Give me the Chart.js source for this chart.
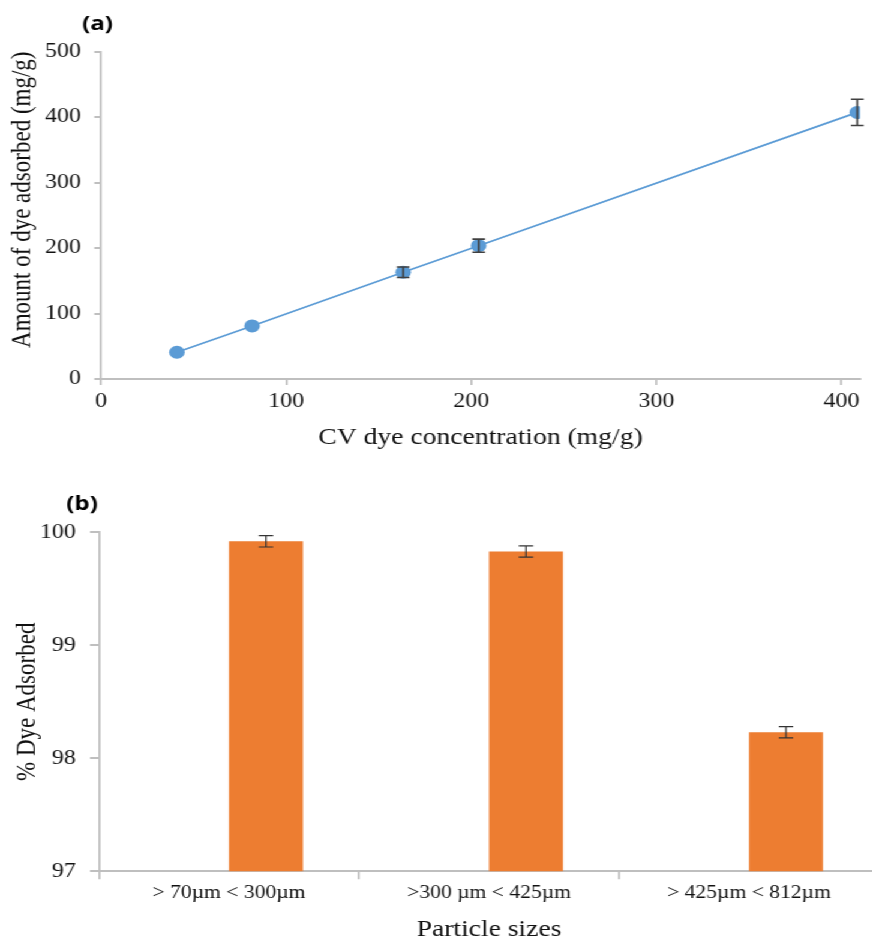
<!DOCTYPE html>
<html>
<head>
<meta charset="utf-8">
<script src="https://cdn.jsdelivr.net/npm/chart.js@4.4.1/dist/chart.umd.min.js"></script>
<style>
  html, body { margin: 0; padding: 0; background: #fff; width: 872px; height: 945px; overflow: hidden; }
  /* the figure is a little wider than tall, like the original scan */
  #stage { width: 735px; transform: scaleX(1.2); transform-origin: 0 0; }
  canvas { display: block; }
</style>
</head>
<body>
<div id="stage">
  <canvas id="chartA" width="735" height="470"></canvas>
  <canvas id="chartB" width="735" height="475"></canvas>
</div>
<script>
// (a) adsorption vs concentration
const concentration = [41, 81.6, 163.2, 204, 408.5];
const adsorbed      = [40.8, 81, 163, 203.5, 407];
const adsorbedErr   = [0, 0, 8, 10, 20];
const xTicksA = [0, 100, 200, 300, 400];
const yTicksA = [0, 100, 200, 300, 400, 500];

// (b) particle size
const particleSizes  = ['> 70\u00b5m < 300\u00b5m', '>300 \u00b5m < 425\u00b5m', '> 425\u00b5m < 812\u00b5m'];
const dyeAdsorbed    = [99.92, 99.83, 98.23];
const dyeAdsorbedErr = [0.05, 0.05, 0.05];
const yTicksB = [97, 98, 99, 100];

const serif = '"Liberation Serif", "Times New Roman", serif';
const textColor = '#111111';
const axisColor = '#bfbfbf';

// error bars drawn on top of points / bars
const errorBars = {
    id: 'errorBars',
    afterDatasetsDraw(chart, args, opts) {
        const ctx = chart.ctx;
        const yScale = chart.scales.y;
        chart.data.datasets.forEach((ds, i) => {
            if (!ds.errors) return;
            const meta = chart.getDatasetMeta(i);
            ctx.save();
            ctx.strokeStyle = opts.color;
            ctx.lineWidth = opts.width;
            meta.data.forEach((el, j) => {
                const raw = ds.data[j];
                const v = (raw !== null && typeof raw === 'object') ? raw.y : raw;
                const e = ds.errors[j];
                if (v == null || !e) return;
                const x = el.x;
                const top = yScale.getPixelForValue(v + e);
                const bot = yScale.getPixelForValue(v - e);
                ctx.beginPath();
                ctx.moveTo(x, top); ctx.lineTo(x, bot);
                ctx.moveTo(x - opts.cap, top); ctx.lineTo(x + opts.cap, top);
                ctx.moveTo(x - opts.cap, bot); ctx.lineTo(x + opts.cap, bot);
                ctx.stroke();
            });
            ctx.restore();
        });
    }
};

// "(a)" / "(b)" panel letters
const panelLabel = {
    id: 'panelLabel',
    afterDraw(chart, args, opts) {
        const ctx = chart.ctx;
        ctx.save();
        ctx.font = 'bold 20px "Open Sans", sans-serif';
        ctx.fillStyle = '#000';
        ctx.textAlign = 'center';
        ctx.textBaseline = 'middle';
        ctx.fillText(opts.text, opts.x, opts.y);
        ctx.restore();
    }
};

function setTicks(list) {
    return function(scale) {
        scale.ticks = list.map(v => ({ value: v }));
    };
}

new Chart(document.getElementById('chartA'), {
    type: 'scatter',
    data: {
        datasets: [{
            data: concentration.map((x, i) => ({ x: x, y: adsorbed[i] })),
            errors: adsorbedErr,
            showLine: true,
            borderColor: '#5b9bd5',
            backgroundColor: '#5b9bd5',
            borderWidth: 1.75,
            pointRadius: 6.5,
            pointHoverRadius: 6.5,
            pointBorderWidth: 0
        }]
    },
    plugins: [errorBars, panelLabel],
    options: {
        responsive: false,
        animation: false,
        events: [],
        layout: { padding: { top: 51.5, right: 18.3, bottom: 18.2, left: 0 } },
        plugins: {
            legend: { display: false },
            tooltip: { enabled: false },
            errorBars: { color: '#404040', width: 1.6, cap: 5.3 },
            panelLabel: { text: '(a)', x: 81.3, y: 24 }
        },
        scales: {
            x: {
                type: 'linear',
                min: 0,
                max: 410,
                afterBuildTicks: setTicks(xTicksA),
                afterFit: s => { s.height = 72.8; },
                grid: { drawOnChartArea: false, tickLength: 6, color: axisColor, lineWidth: 1.7 },
                border: { color: axisColor, width: 2 },
                ticks: { padding: 5, color: textColor, font: { family: serif, size: 20 } },
                title: {
                    display: true,
                    text: 'CV dye concentration (mg/g)',
                    color: textColor,
                    font: { family: serif, size: 23 },
                    padding: 0
                }
            },
            y: {
                min: 0,
                max: 500,
                afterBuildTicks: setTicks(yTicksA),
                afterFit: s => { s.width = 84.2; },
                grid: { drawOnChartArea: false, tickLength: 5.6, color: axisColor, lineWidth: 2 },
                border: { color: axisColor, width: 1.7 },
                ticks: { padding: 11, color: textColor, font: { family: serif, size: 20 } },
                title: {
                    display: true,
                    text: 'Amount of dye adsorbed (mg/g)',
                    align: 'end',
                    color: textColor,
                    font: { family: serif, size: 23 },
                    padding: { top: 5, bottom: 0 }
                }
            }
        }
    }
});

new Chart(document.getElementById('chartB'), {
    type: 'bar',
    data: {
        labels: particleSizes,
        datasets: [
            // empty first series keeps the bars right of each category centre
            { data: particleSizes.map(() => null), backgroundColor: 'rgba(0,0,0,0)' },
            { data: dyeAdsorbed, errors: dyeAdsorbedErr, backgroundColor: '#ed7d31' }
        ]
    },
    plugins: [errorBars, panelLabel],
    options: {
        responsive: false,
        animation: false,
        events: [],
        datasets: { bar: { categoryPercentage: 0.569, barPercentage: 1 } },
        layout: { padding: { top: 62.3, right: 2.5, bottom: 1.2, left: 0 } },
        plugins: {
            legend: { display: false },
            tooltip: { enabled: false },
            errorBars: { color: '#333333', width: 1.2, cap: 6 },
            panelLabel: { text: '(b)', x: 68.4, y: 34 }
        },
        scales: {
            x: {
                afterFit: s => { s.height = 72.5; },
                grid: { drawOnChartArea: false, tickLength: 8, color: axisColor, lineWidth: 1.7 },
                border: { color: axisColor, width: 2 },
                ticks: { padding: 3, color: textColor, font: { family: serif, size: 18 } },
                title: {
                    display: true,
                    text: 'Particle sizes',
                    color: textColor,
                    font: { family: serif, size: 23 },
                    padding: 0
                }
            },
            y: {
                min: 97,
                max: 100,
                afterBuildTicks: setTicks(yTicksB),
                afterFit: s => { s.width = 82.5; },
                grid: { drawOnChartArea: false, tickLength: 7.5, color: axisColor, lineWidth: 2 },
                border: { color: axisColor, width: 1.7 },
                ticks: { padding: 11.7, color: textColor, font: { family: serif, size: 20 } },
                title: {
                    display: true,
                    text: '% Dye Adsorbed',
                    color: textColor,
                    font: { family: serif, size: 23 },
                    padding: { top: 8.7, bottom: 0 }
                }
            }
        }
    }
});
</script>
</body>
</html>
